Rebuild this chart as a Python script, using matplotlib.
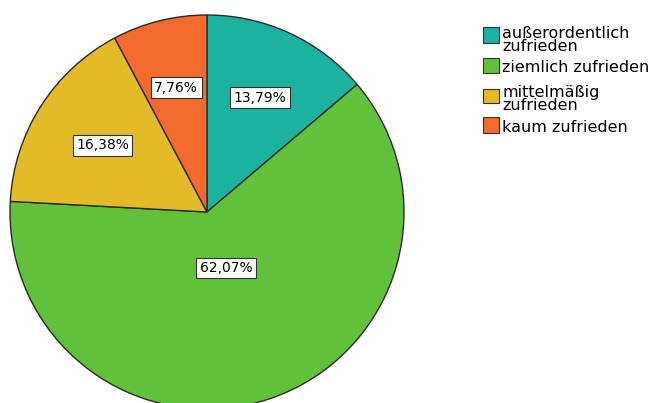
import numpy as np
import matplotlib
matplotlib.use("Agg")
import matplotlib.pyplot as plt
from matplotlib.patches import Rectangle

categories = ["außerordentlich\nzufrieden", "ziemlich zufrieden",
              "mittelmäßig\nzufrieden", "kaum zufrieden"]
shares = [13.79, 62.07, 16.38, 7.76]
value_labels = ["13,79%", "62,07%", "16,38%", "7,76%"]
colors = ["#1BB3A0", "#62C13B", "#E3BA28", "#F26A2D"]
label_radius = [0.64, 0.30, 0.63, 0.65]

W, H = 660, 403
fig = plt.figure(figsize=(W / 100, H / 100), dpi=100)
fig.patch.set_facecolor("white")

cx, cy, R = 207, 212, 197
ax = fig.add_axes([(cx - R) / W, (H - cy - R) / H, 2 * R / W, 2 * R / H])

wedges, _ = ax.pie(shares, colors=colors, startangle=90, counterclock=False,
                   radius=1.0,
                   wedgeprops=dict(edgecolor="#2a2a2a", linewidth=1.0))
ax.set_xlim(-1, 1)
ax.set_ylim(-1, 1)
ax.set_aspect("equal")
ax.axis("off")
for w in wedges:
    w.set_clip_on(False)

# value boxes inside the slices
total = sum(shares)
start = 90.0
for share, txt, rr in zip(shares, value_labels, label_radius):
    sweep = share / total * 360.0
    mid = np.deg2rad(start - sweep / 2)
    ax.text(rr * np.cos(mid), rr * np.sin(mid), txt, ha="center", va="center",
            fontsize=10, color="black",
            bbox=dict(boxstyle="square,pad=0.25", facecolor="white",
                      edgecolor="#333333", linewidth=0.8))
    start -= sweep

# legend: swatch top/bottom and last-line baseline in pixels from the top
box_spans = [(27, 43), (58, 73), (89, 103), (117, 133)]
baselines = [51, 72, 110.5, 132]
lx = 483
for cat, col, (top, bot), bl in zip(categories, colors, box_spans, baselines):
    fig.patches.append(Rectangle((lx / W, 1 - bot / H), 16 / W, (bot - top) / H,
                                 transform=fig.transFigure, facecolor=col,
                                 edgecolor="#333333", linewidth=0.8))
    fig.text(502 / W, 1 - bl / H, cat, ha="left", va="baseline",
             fontsize=11.5, color="black", linespacing=0.85)

fig.savefig("out.png", dpi=100)
